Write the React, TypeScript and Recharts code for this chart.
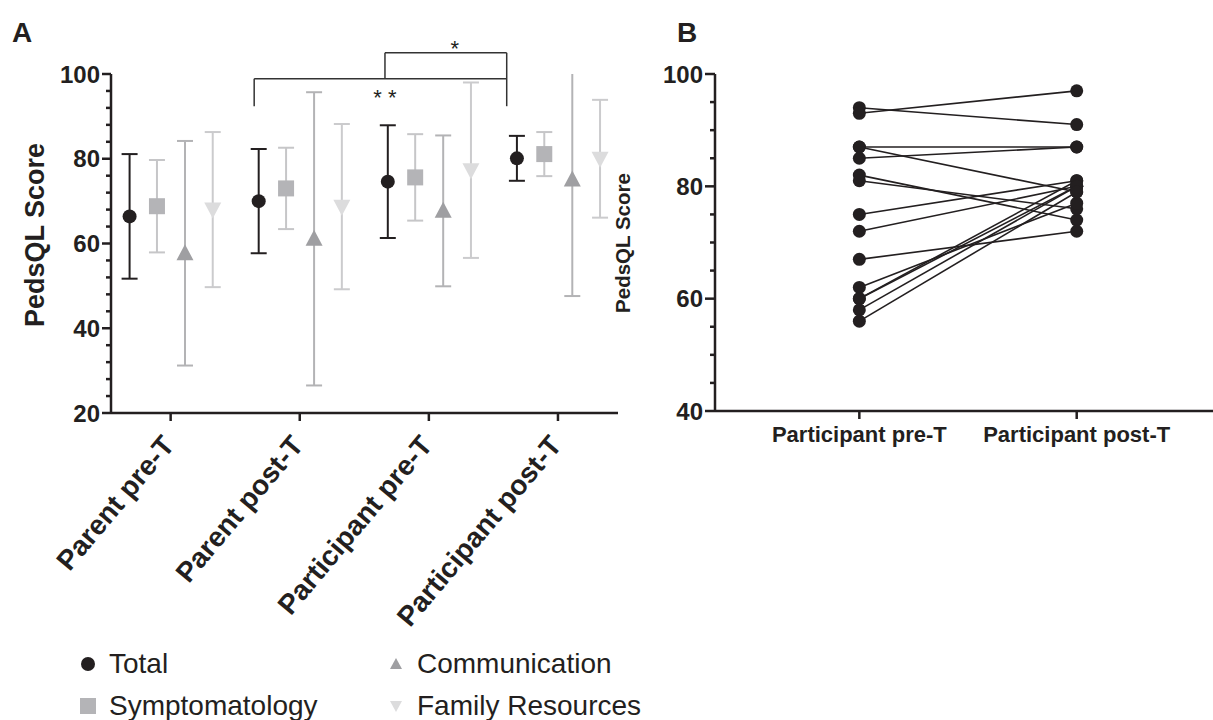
import React from 'react';
import {
  ScatterChart,
  Scatter,
  ErrorBar,
  ComposedChart,
  Line,
  XAxis,
  YAxis,
  ReferenceLine,
  ReferenceDot,
} from 'recharts';

const INK = '#231f20';
const FONT = '"Liberation Sans", Arial, Helvetica, sans-serif';

// Panel A: mean and SD per subscale
const groups = ['Parent pre-T', 'Parent post-T', 'Participant pre-T', 'Participant post-T'];
const totalMean = [66.4, 70.0, 74.6, 80.1];
const totalSd = [14.7, 12.3, 13.3, 5.3];
const symptomMean = [68.8, 73.0, 75.6, 81.1];
const symptomSd = [10.9, 9.6, 10.2, 5.2];
const commMean = [57.7, 61.1, 67.7, 75.1];
const commSd = [26.5, 34.6, 17.8, 27.5];
const familyMean = [68.0, 68.7, 77.3, 80.0];
const familySd = [18.3, 19.5, 20.7, 13.9];
const yTicksA = [20, 24, 28, 32, 36, 40, 44, 48, 52, 56, 60, 64, 68, 72, 76, 80, 84, 88, 92, 96, 100];

// significance brackets (x in group units, y in score units)
const bracketSegments = [
  [[0.647, 92.4], [0.647, 98.9]],
  [[0.647, 98.9], [2.603, 98.9]],
  [[2.603, 92.4], [2.603, 105.0]],
  [[1.66, 98.9], [1.66, 105.0]],
  [[1.66, 105.0], [2.603, 105.0]],
];
const bracketLabels = [
  { text: '*', x: 2.2, y: 107.2 },
  { text: '* *', x: 1.66, y: 95.8 },
];

// Panel B: paired participant scores
const pairLabels = ['Participant pre-T', 'Participant post-T'];
const participantPre = [94, 93, 87, 87, 85, 82, 81, 75, 72, 67, 62, 60, 60, 58, 56];
const participantPost = [91, 97, 87, 79, 87, 74, 76, 81, 80, 72, 77, 81, 80, 80, 79];
const yTicksB = [40, 45, 50, 55, 60, 65, 70, 75, 80, 85, 90, 95, 100];

const legendNames = ['Total', 'Symptomatology', 'Communication', 'Family Resources'];

const Circle = (p: any) => <circle cx={p.cx} cy={p.cy} r={7} fill={INK} />;
const Square = (p: any) => (
  <rect x={p.cx - 8} y={p.cy - 8} width={16} height={16} fill="#b4b4b7" />
);
const TriUp = (p: any) => (
  <polygon
    points={`${p.cx},${p.cy - 9} ${p.cx + 8.5},${p.cy + 7} ${p.cx - 8.5},${p.cy + 7}`}
    fill="#9f9fa2"
  />
);
const TriDown = (p: any) => (
  <polygon
    points={`${p.cx},${p.cy + 9} ${p.cx + 8.5},${p.cy - 7} ${p.cx - 8.5},${p.cy - 7}`}
    fill="#dcdcdd"
  />
);

const seriesA = [
  { name: 'Total', mean: totalMean, sd: totalSd, off: -0.318, bar: INK, shape: Circle },
  { name: 'Symptomatology', mean: symptomMean, sd: symptomSd, off: -0.106, bar: '#c6c6c8', shape: Square },
  { name: 'Family Resources', mean: familyMean, sd: familySd, off: 0.326, bar: '#cbcbcd', shape: TriDown },
];
// drawn in a clipped overlay: its last bar runs past 100
const commSeries = { name: 'Communication', mean: commMean, sd: commSd, off: 0.111, bar: '#b3b3b5', shape: TriUp };

function makeYTick(major: number, majorLen: number, minorLen: number) {
  return (props: any) => {
    const { x, y, payload } = props;
    const isMajor = payload.value % major === 0;
    return (
      <g>
        <line x1={x - (isMajor ? majorLen : minorLen)} x2={x} y1={y} y2={y} stroke={INK} strokeWidth={2.5} />
        {isMajor && (
          <text x={x - majorLen - 2} y={y} dy={8.5} textAnchor="end" fontSize={24} fontWeight={700} fill={INK} fontFamily={FONT}>
            {payload.value}
          </text>
        )}
      </g>
    );
  };
}

const RotatedTick = (props: any) => {
  const { x, y, payload } = props;
  return (
    <g>
      <line x1={x} x2={x} y1={y} y2={y + 8} stroke={INK} strokeWidth={2.5} />
      <text
        x={x + 5}
        y={y + 33}
        textAnchor="end"
        transform={`rotate(-50 ${x + 5} ${y + 33})`}
        fontSize={28}
        fontWeight={700}
        fill={INK}
        fontFamily={FONT}
      >
        {groups[payload.value]}
      </text>
    </g>
  );
};

const PairTick = (props: any) => {
  const { x, y, payload } = props;
  return (
    <g>
      <line x1={x} x2={x} y1={y} y2={y + 8} stroke={INK} strokeWidth={2.5} />
      <text x={x} y={y + 31} textAnchor="middle" fontSize={22} fontWeight={700} fill={INK} fontFamily={FONT}>
        {pairLabels[payload.value]}
      </text>
    </g>
  );
};

const StarLabel = (text: string) => (p: any) => (
  <text x={p.cx} y={p.cy} dy={13} textAnchor="middle" fontSize={22} fill={INK} fontFamily={FONT}>
    {text}
  </text>
);

function LegendMarker({ index }: { index: number }) {
  return (
    <svg width={20} height={20} style={{ position: 'absolute', left: -10, top: -10 }}>
      {index === 0 && <circle cx={10} cy={10} r={7} fill={INK} />}
      {index === 1 && <rect x={2} y={2} width={16} height={16} fill="#b4b4b7" />}
      {index === 2 && <polygon points="10,4 16,15 4,15" fill="#9f9fa2" />}
      {index === 3 && <polygon points="10,16 16,5 4,5" fill="#dcdcdd" />}
    </svg>
  );
}

const chartAProps = {
  width: 640,
  height: 650,
  margin: { top: 74, right: 22, bottom: 37, left: 51 },
};

export default function App() {
  const axisStyle = { stroke: INK, strokeWidth: 2.5 };
  const legendPos = [
    { x: 88, y: 664 },
    { x: 88, y: 706 },
    { x: 396, y: 664 },
    { x: 396, y: 706 },
  ];
  const toPoints = (s: any) => groups.map((g, i) => ({ x: i + s.off, y: s.mean[i], sd: s.sd[i] }));

  return (
    <div style={{ position: 'absolute', left: 0, top: 0, width: 1213, height: 720, background: '#fff', fontFamily: FONT, color: INK }}>
      <div style={{ position: 'absolute', left: 12, top: 19, fontSize: 28, fontWeight: 700, lineHeight: 1 }}>A</div>
      <div style={{ position: 'absolute', left: 677, top: 19, fontSize: 28, fontWeight: 700, lineHeight: 1 }}>B</div>

      <div style={{ position: 'absolute', left: 0, top: 0 }}>
        <ScatterChart {...chartAProps}>
          <XAxis
            type="number"
            dataKey="x"
            domain={[-0.462, 3.465]}
            ticks={[0, 1, 2, 3]}
            allowDataOverflow
            interval={0}
            height={200}
            tickSize={0}
            tickMargin={0}
            tickLine={false}
            axisLine={axisStyle}
            tick={<RotatedTick />}
          />
          <YAxis
            type="number"
            dataKey="y"
            domain={[20, 100]}
            ticks={yTicksA}
            allowDataOverflow
            interval={0}
            width={60}
            tickSize={0}
            tickMargin={0}
            tickLine={false}
            axisLine={axisStyle}
            tick={makeYTick(20, 9, 5)}
          />
          {seriesA.map((s) => (
            <Scatter key={s.name} name={s.name} data={toPoints(s)} shape={s.shape} isAnimationActive={false}>
              <ErrorBar dataKey="sd" direction="y" width={8} stroke={s.bar} strokeWidth={2} />
            </Scatter>
          ))}
          {bracketSegments.map((seg, i) => (
            <ReferenceLine
              key={i}
              segment={[{ x: seg[0][0], y: seg[0][1] }, { x: seg[1][0], y: seg[1][1] }]}
              stroke="#333"
              strokeWidth={1.5}
              ifOverflow="visible"
            />
          ))}
          {bracketLabels.map((b) => (
            <ReferenceDot key={b.text} x={b.x} y={b.y} r={0} ifOverflow="visible" shape={StarLabel(b.text)} />
          ))}
        </ScatterChart>
      </div>

      {/* same geometry, clipped at the top of the plot so the bar past 100 is cut */}
      <div style={{ position: 'absolute', left: 0, top: 0, clipPath: 'inset(74px 0 0 0)' }}>
        <ScatterChart {...chartAProps}>
          <XAxis type="number" dataKey="x" domain={[-0.462, 3.465]} allowDataOverflow height={200} axisLine={false} tickLine={false} tick={false} />
          <YAxis type="number" dataKey="y" domain={[20, 100]} allowDataOverflow width={60} axisLine={false} tickLine={false} tick={false} />
          <Scatter name={commSeries.name} data={toPoints(commSeries)} shape={commSeries.shape} isAnimationActive={false}>
            <ErrorBar dataKey="sd" direction="y" width={8} stroke={commSeries.bar} strokeWidth={2} />
          </Scatter>
        </ScatterChart>
      </div>

      <div style={{ position: 'absolute', left: 600, top: 0 }}>
        <ComposedChart width={613} height={470} margin={{ top: 74, right: 0, bottom: 9, left: 55 }}>
          <XAxis
            type="number"
            dataKey="x"
            domain={[-0.664, 1.627]}
            ticks={[0, 1]}
            allowDataOverflow
            interval={0}
            height={50}
            tickSize={0}
            tickMargin={0}
            tickLine={false}
            axisLine={axisStyle}
            tick={<PairTick />}
          />
          <YAxis
            type="number"
            domain={[40, 100]}
            ticks={yTicksB}
            allowDataOverflow
            interval={0}
            width={60}
            tickSize={0}
            tickMargin={0}
            tickLine={false}
            axisLine={axisStyle}
            tick={makeYTick(20, 10, 5)}
          />
          {participantPre.map((pre, i) => (
            <Line
              key={i}
              type="linear"
              data={[{ x: 0, y: pre }, { x: 1, y: participantPost[i] }]}
              dataKey="y"
              stroke={INK}
              strokeWidth={1.6}
              dot={{ r: 6.5, fill: INK, stroke: 'none' }}
              activeDot={false}
              isAnimationActive={false}
            />
          ))}
        </ComposedChart>
      </div>

      <div
        style={{
          position: 'absolute', left: 35 - 150, top: 235 - 15, width: 300, height: 30, lineHeight: '30px',
          textAlign: 'center', fontSize: 27, fontWeight: 700, transform: 'rotate(-90deg)',
        }}
      >
        PedsQL Score
      </div>
      <div
        style={{
          position: 'absolute', left: 623 - 100, top: 243 - 12, width: 200, height: 24, lineHeight: '24px',
          textAlign: 'center', fontSize: 20.5, fontWeight: 700, transform: 'rotate(-90deg)',
        }}
      >
        PedsQL Score
      </div>

      {legendNames.map((name, i) => (
        <div key={name} style={{ position: 'absolute', left: legendPos[i].x, top: legendPos[i].y }}>
          <LegendMarker index={i} />
          <div
            style={{
              position: 'absolute', left: 21, top: -17, height: 34, lineHeight: '34px',
              fontSize: 28, whiteSpace: 'nowrap',
            }}
          >
            {name}
          </div>
        </div>
      ))}
    </div>
  );
}
